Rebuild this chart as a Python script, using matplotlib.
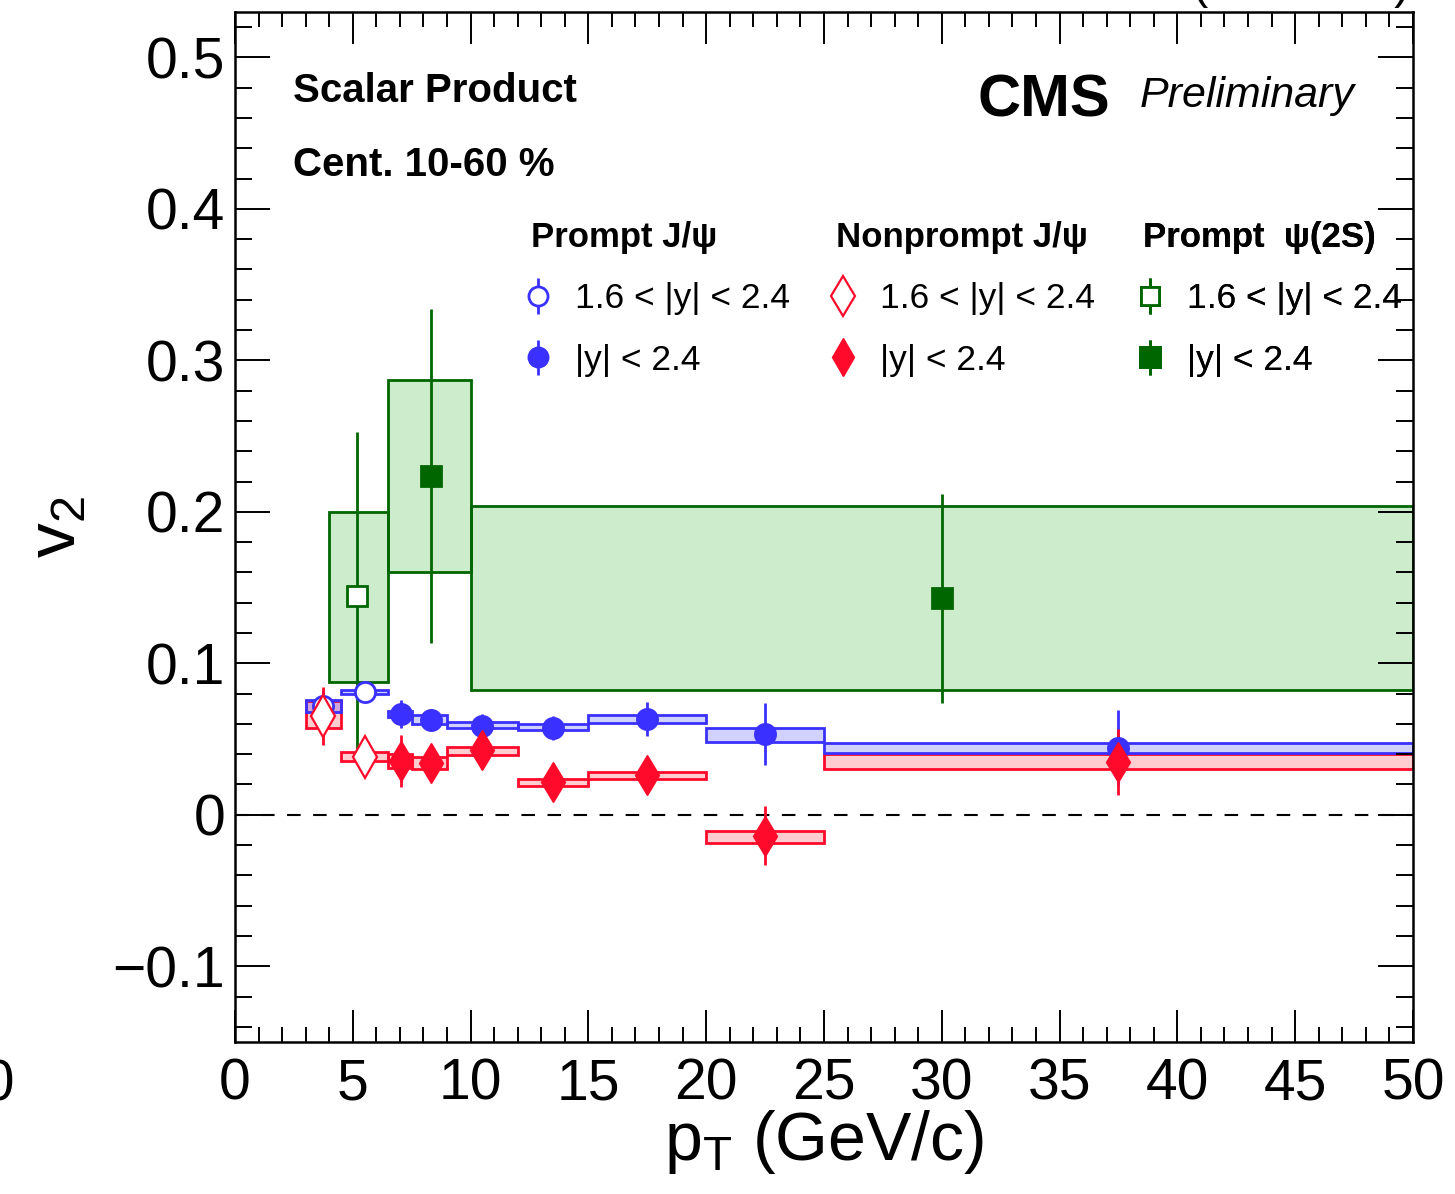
import matplotlib
matplotlib.use('Agg')
import matplotlib.pyplot as plt
from matplotlib.colors import to_rgba
from matplotlib.ticker import MultipleLocator, FuncFormatter

plt.rcParams['font.family'] = ['Liberation Sans', 'DejaVu Sans']
plt.rcParams['mathtext.fontset'] = 'custom'
plt.rcParams['mathtext.rm'] = 'Liberation Sans'
plt.rcParams['mathtext.it'] = 'Liberation Sans:italic'
plt.rcParams['mathtext.bf'] = 'Liberation Sans:bold'
plt.rcParams['mathtext.default'] = 'regular'

BLUE = '#3a30ff'
RED = '#ff0a2a'
GREEN = '#006600'

# --- Prompt J/psi, 1.6<|y|<2.4 ---
pj_fwd_pt = [3.75, 5.5]
pj_fwd_lo = [3.0, 4.5]
pj_fwd_hi = [4.5, 6.5]
pj_fwd_v2 = [0.072, 0.081]
pj_fwd_stat = [0.010, 0.005]
pj_fwd_syslo = [0.068, 0.0795]
pj_fwd_syshi = [0.0755, 0.0826]

# --- Prompt J/psi, |y|<2.4 ---
pj_pt = [7.05, 8.3, 10.5, 13.5, 17.5, 22.5, 37.5]
pj_lo = [6.5, 7.5, 9.0, 12.0, 15.0, 20.0, 25.0]
pj_hi = [7.5, 9.0, 12.0, 15.0, 20.0, 25.0, 50.0]
pj_v2 = [0.0666, 0.0627, 0.0587, 0.0574, 0.0633, 0.0534, 0.044]
pj_stat = [0.009, 0.005, 0.008, 0.008, 0.011, 0.0205, 0.025]
pj_syslo = [0.0647, 0.060, 0.0571, 0.056, 0.0609, 0.0481, 0.0406]
pj_syshi = [0.0687, 0.066, 0.0611, 0.0597, 0.0658, 0.0576, 0.0477]

# --- Nonprompt J/psi, 1.6<|y|<2.4 ---
npj_fwd_pt = [3.75, 5.5]
npj_fwd_lo = [3.0, 4.5]
npj_fwd_hi = [4.5, 6.5]
npj_fwd_v2 = [0.0653, 0.0383]
npj_fwd_stat = [0.019, 0.008]
npj_fwd_syslo = [0.0571, 0.0356]
npj_fwd_syshi = [0.0754, 0.0413]

# --- Nonprompt J/psi, |y|<2.4 ---
npj_pt = [7.05, 8.3, 10.5, 13.5, 17.5, 22.5, 37.5]
npj_lo = [6.5, 7.5, 9.0, 12.0, 15.0, 20.0, 25.0]
npj_hi = [7.5, 9.0, 12.0, 15.0, 20.0, 25.0, 50.0]
npj_v2 = [0.0356, 0.0343, 0.0429, 0.0218, 0.0264, -0.0139, 0.035]
npj_stat = [0.017, 0.008, 0.010, 0.0095, 0.0118, 0.0195, 0.0218]
npj_syslo = [0.0307, 0.030, 0.0396, 0.0191, 0.0235, -0.0183, 0.0302]
npj_syshi = [0.0399, 0.0383, 0.0445, 0.0235, 0.0282, -0.0104, 0.0402]

# --- Prompt psi(2S), 1.6<|y|<2.4 ---
ps_fwd_pt = [5.2]
ps_fwd_lo = [4.0]
ps_fwd_hi = [6.5]
ps_fwd_v2 = [0.1445]
ps_fwd_stat = [0.108]
ps_fwd_syslo = [0.0875]
ps_fwd_syshi = [0.2001]

# --- Prompt psi(2S), |y|<2.4 ---
ps_pt = [8.3, 30.0]
ps_lo = [6.5, 10.0]
ps_hi = [10.0, 50.0]
ps_v2 = [0.2236, 0.143]
ps_stat = [0.11, 0.069]
ps_syslo = [0.1604, 0.0825]
ps_syshi = [0.287, 0.2038]


def syst_boxes(ax, lo, hi, slo, shi, color, fill, alpha):
    widths = [h - l for l, h in zip(lo, hi)]
    heights = [h - l for l, h in zip(slo, shi)]
    ax.bar(lo, heights, width=widths, bottom=slo, align='edge',
           color=to_rgba(fill, alpha), edgecolor=color, linewidth=2.0, zorder=1)


def points(ax, x, y, err, color, marker, ms, filled, mew=2.0):
    face = color if filled else 'white'
    return ax.errorbar(x, y, yerr=err, fmt=marker, color=color, mfc=face, mec=color,
                       mew=mew, ms=ms, elinewidth=2.0, capsize=0, zorder=3)


fig = plt.figure(figsize=(14.55, 11.94), dpi=100)
ax = fig.add_axes([0.1615, 0.1273, 0.8096, 0.8627])

syst_boxes(ax, ps_fwd_lo, ps_fwd_hi, ps_fwd_syslo, ps_fwd_syshi, GREEN, '#00a000', 0.2)
syst_boxes(ax, ps_lo, ps_hi, ps_syslo, ps_syshi, GREEN, '#00a000', 0.2)
syst_boxes(ax, npj_fwd_lo, npj_fwd_hi, npj_fwd_syslo, npj_fwd_syshi, RED, '#ff0010', 0.2)
syst_boxes(ax, npj_lo, npj_hi, npj_syslo, npj_syshi, RED, '#ff0010', 0.2)
syst_boxes(ax, pj_fwd_lo, pj_fwd_hi, pj_fwd_syslo, pj_fwd_syshi, BLUE, '#0000ff', 0.18)
syst_boxes(ax, pj_lo, pj_hi, pj_syslo, pj_syshi, BLUE, '#0000ff', 0.18)

ax.axhline(0, color='black', lw=1.5, dashes=(6.5, 6), zorder=0.5)

h_ps_fwd = points(ax, ps_fwd_pt, ps_fwd_v2, ps_fwd_stat, GREEN, 's', 14, False)
h_ps = points(ax, ps_pt, ps_v2, ps_stat, GREEN, 's', 15, True)
h_pj_fwd = points(ax, pj_fwd_pt, pj_fwd_v2, pj_fwd_stat, BLUE, 'o', 14.5, False)
h_pj = points(ax, pj_pt, pj_v2, pj_stat, BLUE, 'o', 14.5, True)
h_npj_fwd = points(ax, npj_fwd_pt, npj_fwd_v2, npj_fwd_stat, RED, 'd', 21, False, 1.6)
h_npj = points(ax, npj_pt, npj_v2, npj_stat, RED, 'd', 20, True, 1.0)

ax.set_xlim(0, 50)
ax.set_ylim(-0.15, 0.53)
ax.xaxis.set_major_locator(MultipleLocator(5))
ax.xaxis.set_minor_locator(MultipleLocator(1))
ax.yaxis.set_major_locator(MultipleLocator(0.1))
ax.yaxis.set_minor_locator(MultipleLocator(0.02))
ax.yaxis.set_major_formatter(FuncFormatter(
    lambda v, p: '0' if abs(v) < 1e-9 else ('%.1f' % v).replace('-', '\u2212')))
ax.tick_params(which='both', direction='in', top=True, right=True, width=1.4)
ax.tick_params(which='major', length=23, labelsize=41)
ax.tick_params(axis='x', which='major', pad=11)
ax.tick_params(axis='y', which='major', pad=7, length=25)
ax.tick_params(which='minor', length=11)
ax.tick_params(axis='y', which='minor', length=12.5)
for s in ax.spines.values():
    s.set_linewidth(1.8)

ax.set_xlabel(r'p$_{T}$ (GeV/c)', fontsize=49)
ax.xaxis.set_label_coords(0.5, -0.064)
ax.set_ylabel(r'v$_{2}$', fontsize=50)
ax.yaxis.set_label_coords(-0.124, 0.5)

ax.text(0.0492, 0.913, 'Scalar Product', transform=ax.transAxes, fontsize=29,
        fontweight='bold', va='baseline')
ax.text(0.0492, 0.8408, 'Cent. 10-60 %', transform=ax.transAxes, fontsize=29,
        fontweight='bold', va='baseline')
ax.text(0.6307, 0.8985, 'CMS', transform=ax.transAxes, fontsize=43,
        fontweight='bold', va='baseline')
ax.text(0.7683, 0.9078, 'Preliminary', transform=ax.transAxes, fontsize=31,
        fontstyle='italic', va='baseline')

legends = [
    ([h_pj_fwd, h_pj], 'Prompt J/\u03c8', 0.2513),
    ([h_npj_fwd, h_npj], 'Nonprompt J/\u03c8', 0.5102),
    ([h_ps_fwd, h_ps], 'Prompt  \u03c8(2S)', 0.7708),
]
for hs, title, x in legends:
    leg = ax.legend(hs, ['1.6 < |y| < 2.4', '|y| < 2.4'], title=title,
                    loc='upper left', bbox_to_anchor=(x, 0.797), frameon=False,
                    borderpad=0, borderaxespad=0, fontsize=25.5,
                    title_fontproperties={'weight': 'bold', 'size': 25},
                    alignment='left', handlelength=0.4, handletextpad=0.85,
                    labelspacing=0.8, markerscale=0.95)
    ax.add_artist(leg)

# labels cut off by the figure edges
fig.text(1410 / 1455, 1.0017, 'PbPb (5.02 TeV)', ha='right', va='baseline', fontsize=34)
fig.text(15 / 1455, 0.0787, '50', ha='right', va='baseline', fontsize=41)

fig.savefig('out.png', dpi=100)
